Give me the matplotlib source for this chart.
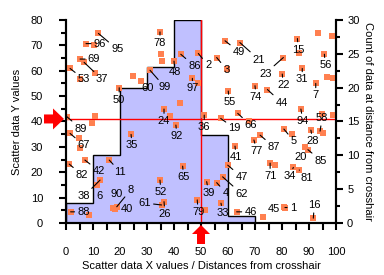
import matplotlib
matplotlib.use('Agg')
import numpy as np
import matplotlib.pyplot as plt
from matplotlib.patches import Polygon
from matplotlib.transforms import ScaledTranslation

# scatter points
scatter_x = [12.0, 7.4, 10.5, 5.2, 6.7, 1.5, 5.2, 10.7, 34.8, 35.1,
             35.7, 24.9, 27.7, 31.1, 19.7, 58.9, 64.4, 55.8, 59.5, 42.5,
             49.0, 40.0, 46.8, 49.0, 70.0, 60.1, 93.4, 98.6, 85.7, 86.4,
             95.7, 80.5, 87.5, 80.1, 96.6, 99.0, 92.5, 74.6, 0.3, 10.7,
             9.5, 1.5, 4.9, 5.2, 24.1, 36.3, 42.2, 38.5, 40.7, 51.2,
             57.3, 63.6, 67.9, 71.9, 69.6, 62.6, 87.0, 94.7, 98.8, 90.7,
             94.1, 95.3, 80.7, 83.6, 88.5, 89.6, 75.6, 77.4, 84.2, 86.4,
             1.2, 7.0, 16.0, 12.6, 11.6, 34.8, 17.3, 18.8, 18.0, 1.7,
             8.6, 36.3, 35.4, 43.2, 59.9, 52.1, 55.8, 58.0, 48.6, 51.5,
             57.4, 63.2, 73.1, 80.7, 81.1, 91.6]
scatter_y = [74.7, 70.7, 70.1, 64.6, 63.3, 60.9, 56.7, 59.2, 75.3, 66.5,
             63.9, 58.0, 55.9, 60.2, 53.3, 71.8, 71.1, 65.2, 60.6, 66.5,
             66.8, 63.8, 57.0, 55.0, 54.1, 52.0, 74.7, 73.6, 72.7, 66.8,
             66.5, 65.2, 60.9, 58.7, 57.6, 57.0, 55.0, 52.6, 41.9, 42.1,
             39.5, 35.3, 33.3, 29.4, 34.9, 44.9, 47.1, 42.2, 38.6, 42.5,
             41.2, 43.2, 40.3, 34.6, 32.7, 30.3, 44.9, 42.8, 42.5, 36.6,
             36.2, 35.3, 37.0, 34.9, 29.9, 28.9, 23.6, 22.8, 21.9, 20.9,
             23.2, 24.8, 24.8, 16.9, 15.0, 16.9, 6.0, 6.4, 5.7, 4.4,
             3.1, 8.4, 7.1, 22.4, 22.8, 16.3, 15.9, 18.2, 9.1, 5.1,
             7.8, 4.4, 2.2, 6.2, 6.1, 1.9]
point_labels = ['95', '96', '', '69', '37', '53', '', '', '78', '',
                '', '', '60', '99', '50', '49', '21', '3', '', '86',
                '2', '48', '97', '', '74', '55', '', '', '15', '',
                '56', '23', '31', '22', '', '', '7', '44', '89', '',
                '', '67', '', '', '35', '24', '', '', '92', '36',
                '19', '66', '', '87', '77', '41', '94', '', '', '28',
                '58', '', '5', '', '20', '85', '71', '', '34', '81',
                '82', '42', '11', '38', '6', '52', '90', '8', '40', '88',
                '', '26', '61', '65', '47', '39', '4', '62', '79', '',
                '33', '46', '', '45', '1', '16']

# label placement (pixel offsets from the point) and leader lines
label_dx = [19, 14, 0, 14, 18, 14, 0, 0, 0, 0,
            0, 0, 7, 15, 0, 14, 19, 10, 0, 14,
            10, 1, 0, 0, 1, 1, 0, 0, 1, 0,
            1, -18, 0, 1, 0, 0, 0, 14, 14, 0,
            0, 14, 0, 0, 1, 0, 0, 0, 1, 0,
            14, 13, 0, 14, 3, 1, 2, 0, 0, 2,
            2, 0, 10, 0, -4, 13, 0, 0, -4, 7,
            13, 14, 11, -16, 2, 1, 4, 14, 12, 13,
            0, 1, -17, 1, 14, 2, 9, 19, 1, 0,
            2, 14, 0, -10, 8, 1]
label_dy = [-16, 0, 0, 0, -17, -11, 0, 0, -11, 0,
            0, 0, -7, -17, -12, -11, -17, -12, 0, -12,
            -12, -11, -10, 0, -11, -11, 0, 0, -11, 0,
            -11, -16, -11, -11, 0, 0, -12, -13, -12, 0,
            0, -12, 0, 0, -11, -12, 0, 0, -11, -12,
            -10, -12, 0, -12, -11, -11, -12, 0, 0, -11,
            13, 0, -12, 0, -10, -11, -13, 0, -9, -8,
            -11, -11, -12, -16, -11, -12, 14, 17, 0, 0,
            0, -12, 2, -11, -12, -11, -10, -17, -12, 0,
            -10, 0, 0, -2, 0, 13]
has_leader = [1, 1, 0, 1, 1, 1, 0, 0, 1, 0,
              0, 0, 0, 1, 1, 1, 1, 1, 0, 1,
              1, 1, 1, 0, 1, 1, 0, 0, 1, 0,
              1, 1, 1, 1, 0, 0, 1, 1, 1, 0,
              0, 1, 0, 0, 1, 1, 0, 0, 1, 1,
              1, 1, 0, 1, 1, 1, 1, 0, 0, 1,
              1, 0, 1, 0, 0, 1, 1, 0, 1, 1,
              1, 1, 1, 1, 0, 1, 0, 1, 0, 1,
              0, 1, 1, 1, 1, 1, 1, 1, 1, 0,
              1, 1, 0, 0, 1, 1]

# histogram of distances from the crosshair (right axis)
hist_edges = [0, 10, 20, 30, 40, 50, 60, 70]
hist_counts = [3, 10, 20, 23, 30, 13, 1]

crosshair_x = 50
crosshair_y = 41

plt.rcParams['font.family'] = ['Liberation Sans', 'DejaVu Sans']
plt.rcParams['font.size'] = 8

fig = plt.figure(figsize=(3.84, 2.75), dpi=100)
ax = fig.add_axes([0.1719, 0.1891, 0.7031, 0.7382])
ax2 = ax.twinx()
ax.set_zorder(ax2.get_zorder() + 1)
ax.patch.set_visible(False)

# histogram on the right axis
ax2.stairs(hist_counts, hist_edges, fill=True, color='#c0c0ff', lw=0)
ax2.stairs(hist_counts, hist_edges, baseline=0, color='black', lw=1)
ax2.set_ylim(0, 30)

# crosshair
ax.axvline(crosshair_x, color='red', lw=1, zorder=1)
ax.axhline(crosshair_y, color='red', lw=1, zorder=1)

# scatter
ax.scatter(scatter_x, scatter_y, marker='s', s=25, c='#ff8050', lw=0, zorder=2)
for x, y, lab, dx, dy, lead in zip(scatter_x, scatter_y, point_labels,
                                    label_dx, label_dy, has_leader):
    if not lab:
        continue
    props = dict(arrowstyle='-', color='black', lw=0.8, shrinkA=0, shrinkB=0) if lead else None
    ax.annotate(lab, (x, y), xytext=(dx, dy), textcoords='offset pixels',
                ha='center', va='center', fontsize=8, arrowprops=props, zorder=3)

ax.set_xlim(0, 100)
ax.set_ylim(0, 80)

# red arrows marking the crosshair on the axes
left_arrow = np.array([(-2, 0), (-13, 10.5), (-13, 4.5), (-22, 4.5),
                       (-22, -4.5), (-13, -4.5), (-13, -10.5)]) / 100
bottom_arrow = np.array([(0, -2), (9, -11), (4, -11), (4, -21),
                         (-4, -21), (-4, -11), (-9, -11)]) / 100
for verts, tip in [(left_arrow, (0, crosshair_y)), (bottom_arrow, (crosshair_x, 0))]:
    trans = fig.dpi_scale_trans + ScaledTranslation(tip[0], tip[1], ax.transData)
    ax.add_patch(Polygon(verts, closed=True, transform=trans, color='red',
                         lw=0, clip_on=False, zorder=5))

# axes styling
for a in (ax, ax2):
    a.spines['top'].set_visible(False)
    for s in ('left', 'right', 'bottom'):
        a.spines[s].set_linewidth(1.5)

ax.set_xticks(range(0, 101, 10))
ax.set_xticks(range(5, 100, 10), minor=True)
ax.set_yticks(range(0, 81, 10))
ax.set_yticks(range(5, 80, 10), minor=True)
ax2.set_yticks(range(0, 31, 5))
ax2.set_yticks(np.arange(2.5, 30, 5), minor=True)

ax.tick_params(axis='x', which='both', length=5, width=1.5, pad=12)
ax.tick_params(axis='y', which='major', length=5, width=1.5, pad=11.5)
ax.tick_params(axis='y', which='minor', length=3.5, width=1.5)
ax2.tick_params(axis='y', which='major', length=5, width=1.5, pad=3)
ax2.tick_params(axis='y', which='minor', length=3, width=1.5)

ax.set_xlabel('Scatter data X values / Distances from crosshair', fontsize=8)
ax.set_ylabel('Scatter data Y values', fontsize=8)
ax2.set_ylabel('Count of data at distance from crosshair', fontsize=8, rotation=270)
for lbl in (ax.xaxis.label, ax.yaxis.label, ax2.yaxis.label):
    lbl.set_va('center')
    lbl.set_ha('center')
ax.xaxis.set_label_coords(0.5, -0.212)
ax.yaxis.set_label_coords(-0.1815, 0.5)
ax2.yaxis.set_label_coords(1.119, 0.5)

fig.savefig('out.png', dpi=100)
